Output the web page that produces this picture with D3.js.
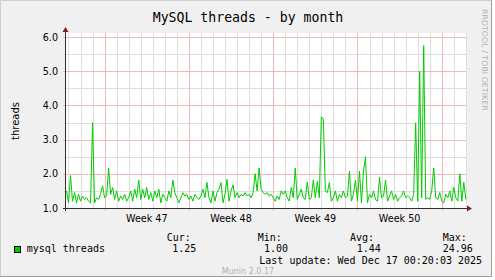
<!DOCTYPE html>
<html>
<head>
<meta charset="utf-8">
<script src="https://cdn.jsdelivr.net/npm/d3@7/dist/d3.min.js"></script>
<style>
  body { margin: 0; background: #ffffff; }
  svg text { font-family: "DejaVu Sans", sans-serif; }
  svg text.mono { font-family: "DejaVu Sans Mono", monospace; }
</style>
</head>
<body>
<div id="chart"></div>
<script>

// mysql threads, one value every 4 hours (munin month view)
var threads = [
  1.5, 1.15, 1.95, 1.2, 1.45, 1.15, 1.4, 1.2, 1.35, 1.25,
  1.3, 1.2, 1.15, 3.5, 1.15, 1.3, 1.25, 1.4, 1.65, 1.3,
  1.35, 2.17, 1.4, 1.6, 1.25, 1.5, 1.2, 1.35, 1.25, 1.4,
  1.2, 1.3, 1.5, 1.2, 1.55, 1.3, 1.82, 1.25, 1.55, 1.3,
  1.6, 1.25, 1.45, 1.2, 1.5, 1.3, 1.55, 1.15, 1.4, 1.3,
  1.2, 1.5, 1.3, 1.82, 1.45, 1.3, 1.15, 1.3, 1.45, 1.35,
  1.4, 1.25, 1.35, 1.2, 1.4, 1.3, 1.25, 1.35, 1.55, 1.3,
  1.75, 1.3, 1.15, 1.5, 1.2, 1.45, 1.55, 1.74, 1.15, 1.4,
  1.84, 1.2, 1.5, 1.68, 1.3, 1.45, 1.3, 1.4, 1.35, 1.45,
  1.35, 1.4, 1.3, 1.45, 2.0, 1.5, 2.17, 1.55, 1.45, 1.4,
  1.45, 1.35, 1.4, 1.3, 1.2, 1.35, 1.25, 1.5, 1.4, 1.5,
  1.3, 1.2, 1.6, 1.3, 2.17, 1.25, 1.4, 1.55, 1.3, 1.25,
  1.76, 1.25, 1.3, 1.82, 1.3, 1.78, 1.3, 3.67, 3.6, 1.5,
  1.45, 1.74, 1.2, 1.3, 1.5, 1.2, 1.4, 1.3, 1.5, 1.3,
  1.35, 2.07, 1.2, 1.4, 1.82, 1.2, 2.08, 1.15, 2.08, 2.5,
  1.15, 1.4, 1.3, 1.5, 1.25, 1.2, 1.9, 1.3, 1.35, 1.82,
  1.2, 1.35, 1.5, 1.25, 1.4, 1.2, 1.3, 1.35, 1.5, 1.3,
  1.35, 1.3, 1.2, 1.4, 3.49, 1.2, 5.0, 1.3, 5.75, 1.25,
  1.3, 1.25, 1.5, 2.17, 1.3, 1.25, 1.45, 1.2, 1.15, 1.4,
  1.3, 1.5, 1.2, 1.6, 1.3, 1.2, 2.0, 1.2, 1.75, 1.25
];

var seriesStart = Date.UTC(2025, 10, 13, 20, 0, 0);
var seriesStep = 4 * 3600 * 1000;
var lastUpdate = Date.UTC(2025, 11, 17, 0, 20, 3);
var viewDays = 33.22;

var yTicks = [1, 2, 3, 4, 5, 6];
var yMinorTicks = [1.5, 2.5, 3.5, 4.5, 5.5];
var yTickLabels = ['1.0', '2.0', '3.0', '4.0', '5.0', '6.0'];

var weekStarts = [Date.UTC(2025, 10, 17), Date.UTC(2025, 10, 24), Date.UTC(2025, 11, 1), Date.UTC(2025, 11, 8)];
var weekLabels = ['Week 47', 'Week 48', 'Week 49', 'Week 50'];

var legendHeads = ['Cur:', 'Min:', 'Avg:', 'Max:'];
var legendValues = ['1.25', '1.00', '1.44', '24.96'];


var width = 495,
    height = 280,
    plot = {left: 66, right: 466, top: 33, bottom: 208};

var svg = d3.select('#chart').append('svg')
  .attr('width', width)
  .attr('height', height);

// Background + frame
svg.append('rect').attr('x', 0).attr('y', 0).attr('width', 492).attr('height', 277).attr('fill', '#f0f0f0');
svg.append('path').attr('d', 'M0.5,277V0.5H492').attr('fill', 'none').attr('stroke', '#cfcfcf').attr('stroke-width', 1);
svg.append('path').attr('d', 'M491.5,0V276.5H0').attr('fill', 'none').attr('stroke', '#9e9e9e').attr('stroke-width', 1);

// Canvas
svg.append('rect')
  .attr('x', plot.left).attr('y', plot.top)
  .attr('width', plot.right - plot.left).attr('height', plot.bottom - plot.top)
  .attr('fill', '#ffffff');

var x = d3.scaleUtc()
  .domain([new Date(lastUpdate - viewDays * 86400000), new Date(lastUpdate)])
  .range([plot.left, plot.right]);

var y = d3.scaleLinear()
  .domain([1, 6.12])
  .range([plot.bottom, plot.top]);

var px = function(v) { return Math.round(v) + 0.5; };

var grid = svg.append('g').attr('shape-rendering', 'crispEdges');

// minor grid: days and half units
var days = d3.utcDay.range(x.domain()[0], x.domain()[1]).filter(function(d) { return d.getUTCDay() !== 1; });
grid.selectAll('.dayline').data(days).enter().append('line')
  .attr('x1', function(d) { return px(x(d)); }).attr('x2', function(d) { return px(x(d)); })
  .attr('y1', plot.top).attr('y2', plot.bottom + 2)
  .attr('stroke', '#dedede');

grid.selectAll('.yminor').data(yMinorTicks).enter().append('line')
  .attr('x1', plot.left - 2).attr('x2', plot.right)
  .attr('y1', function(d) { return px(y(d)); }).attr('y2', function(d) { return px(y(d)); })
  .attr('stroke', '#dedede');

// major grid: weeks and whole units
var mondays = d3.utcMonday.range(x.domain()[0], x.domain()[1]);
grid.selectAll('.weekline').data(mondays).enter().append('line')
  .attr('x1', function(d) { return px(x(d)); }).attr('x2', function(d) { return px(x(d)); })
  .attr('y1', plot.top).attr('y2', plot.bottom + 3)
  .attr('stroke', '#f2b8b8');

grid.selectAll('.ymajor').data(yTicks.slice(1)).enter().append('line')
  .attr('x1', plot.left - 3).attr('x2', plot.right)
  .attr('y1', function(d) { return px(y(d)); }).attr('y2', function(d) { return px(y(d)); })
  .attr('stroke', '#f2b8b8');

// the data line
var line = d3.line()
  .x(function(d, i) { return x(new Date(seriesStart + i * seriesStep)); })
  .y(function(d) { return y(d); });

svg.append('path')
  .datum(threads)
  .attr('d', line)
  .attr('fill', 'none')
  .attr('stroke', '#00cc00')
  .attr('stroke-width', 1);

// Axes
var axisColor = '#3a2a2a';
svg.append('line')
  .attr('x1', plot.left - 3).attr('x2', plot.right + 1)
  .attr('y1', px(plot.bottom)).attr('y2', px(plot.bottom))
  .attr('stroke', axisColor).attr('shape-rendering', 'crispEdges');
svg.append('line')
  .attr('x1', plot.left - 0.5).attr('x2', plot.left - 0.5)
  .attr('y1', plot.bottom + 3).attr('y2', plot.top - 1)
  .attr('stroke', axisColor).attr('shape-rendering', 'crispEdges');

// arrows
svg.append('path')
  .attr('d', 'M' + (plot.right + 1) + ',' + (plot.bottom - 2.5) + 'L' + (plot.right + 6) + ',' + (plot.bottom + 0.5) + 'L' + (plot.right + 1) + ',' + (plot.bottom + 3.5) + 'Z')
  .attr('fill', '#801f1f');
svg.append('path')
  .attr('d', 'M' + (plot.left - 3.5) + ',' + (plot.top - 1) + 'L' + (plot.left - 0.5) + ',' + (plot.top - 6) + 'L' + (plot.left + 2.5) + ',' + (plot.top - 1) + 'Z')
  .attr('fill', '#801f1f');

// Y tick labels
svg.selectAll('.ylabel').data(yTicks).enter().append('text')
  .attr('x', 58)
  .attr('y', function(d) { return y(d) + 3.5; })
  .attr('text-anchor', 'end')
  .attr('font-size', '9.6px')
  .attr('fill', '#000')
  .text(function(d, i) { return yTickLabels[i]; });

// X week labels, centered in the week
svg.selectAll('.xlabel').data(weekStarts).enter().append('text')
  .attr('x', function(d) { return x(new Date(d + 3.5 * 86400000)); })
  .attr('y', 222)
  .attr('text-anchor', 'middle')
  .attr('font-size', '9.6px')
  .attr('fill', '#000')
  .text(function(d, i) { return weekLabels[i]; });

// Title
svg.append('text')
  .attr('class', 'mono')
  .attr('x', 248).attr('y', 21.5)
  .attr('text-anchor', 'middle')
  .attr('font-size', '13.2px')
  .attr('fill', '#000')
  .text('MySQL threads - by month');

// Vertical label
svg.append('text')
  .attr('transform', 'translate(19,121) rotate(-90)')
  .attr('text-anchor', 'middle')
  .attr('font-size', '10px')
  .attr('fill', '#000')
  .text('threads');

// Watermark
svg.append('text')
  .attr('transform', 'translate(482,9) rotate(90)')
  .attr('text-anchor', 'start')
  .attr('font-size', '7.9px')
  .attr('fill', '#b0b0b0')
  .text('RRDTOOL / TOBI OETIKER');

// Legend
svg.append('rect')
  .attr('x', 14.5).attr('y', 246.5).attr('width', 6).attr('height', 6)
  .attr('fill', '#00cc00').attr('stroke', '#000').attr('stroke-width', 1);

svg.append('text').attr('class', 'mono')
  .attr('x', 26.7).attr('y', 251.7)
  .attr('font-size', '10px')
  .text('mysql threads');

var headX = [166.7, 257.7, 350, 442.7],
    valueX = [172.3, 264, 356.7, 442.7];

svg.selectAll('.lhead').data(legendHeads).enter().append('text')
  .attr('class', 'mono')
  .attr('x', function(d, i) { return headX[i]; })
  .attr('y', 240.5)
  .attr('font-size', '10px')
  .text(function(d) { return d; });

svg.selectAll('.lvalue').data(legendValues).enter().append('text')
  .attr('class', 'mono')
  .attr('x', function(d, i) { return valueX[i]; })
  .attr('y', 251.7)
  .attr('font-size', '10px')
  .text(function(d) { return d; });

svg.append('text').attr('class', 'mono')
  .attr('x', 259.3).attr('y', 264)
  .attr('font-size', '10px')
  .text('Last update: ' + d3.utcFormat('%a %b %d %H:%M:%S %Y')(new Date(lastUpdate)));

svg.append('text')
  .attr('x', 248).attr('y', 273.7)
  .attr('text-anchor', 'middle')
  .attr('font-size', '8px')
  .attr('fill', '#b0b0b0')
  .text('Munin 2.0.17');

</script>
</body>
</html>
